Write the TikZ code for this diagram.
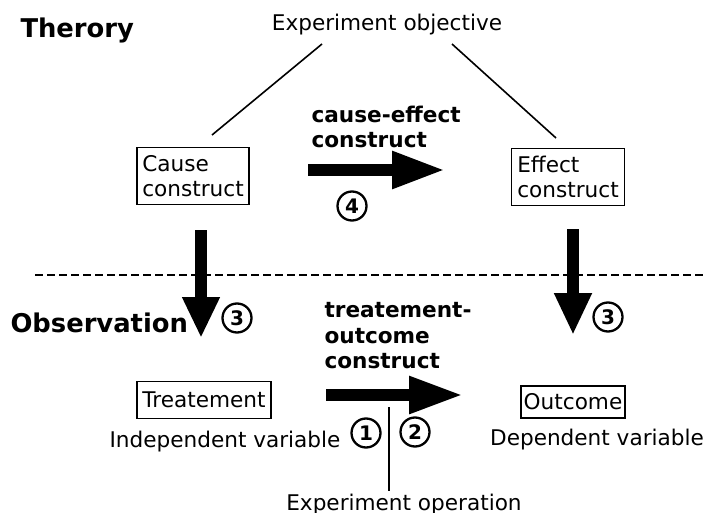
\documentclass[tikz,border=0pt]{standalone}
\usepackage{fontspec}
\setmainfont{DejaVu Sans}
\usetikzlibrary{arrows.meta}
\begin{document}
\begin{tikzpicture}[x=1pt,y=-1pt,
  every node/.style={font=\fontsize{21.6}{25}\selectfont},
  box/.style={draw,line width=1.8pt,inner xsep=5pt,inner ysep=3pt,align=left},
  heading/.style={font=\fontsize{25.8}{30}\selectfont\bfseries},
  boldlbl/.style={font=\fontsize{21.6}{25.5}\selectfont\bfseries,align=left},
  num/.style={circle,draw,line width=2.3pt,fill=white,inner sep=0pt,minimum size=29pt,font=\fontsize{20}{20}\selectfont\bfseries},
  thin/.style={line width=1.6pt},
  bigarrow/.style={line width=11.5pt,-{Triangle[length=#1,width=35pt]}},
  bigarrow/.default=53pt
]
\useasboundingbox (0,0) rectangle (706,513);
% headings
\node[heading,anchor=west] (theory) at (17,30) {Therory};
\node[heading,anchor=west] (obs) at (7,323) {Observation};
% top
\node (obj) at (387,25) {Experiment objective};
\node[box,minimum width=112pt,minimum height=57pt] (cause) at (193,176) {Cause\\construct};
\node[box,minimum width=113pt,minimum height=57pt] (effect) at (568,177) {Effect\\construct};
\coordinate (lA) at (322,44); \coordinate (lB) at (212,135);
\coordinate (rA) at (452,44); \coordinate (rB) at (556,138);
\draw[thin] (lA) -- (lB);
\draw[thin] (rA) -- (rB);
\node[boldlbl,anchor=west] (celbl) at (308,127) {cause-effect\\construct};
\coordinate (a4s) at (308,170); \coordinate (a4e) at (445,170);
\draw[bigarrow] (a4s) -- (a4e);
\node[num] (n4) at (352,206) {4};
% dashed divider
\coordinate (dA) at (35,275); \coordinate (dB) at (706,275);
\draw[line width=1.2pt,dash pattern=on 8pt off 4pt] (dA) -- (dB);
% down arrows
\coordinate (ls) at (201,230); \coordinate (le) at (201,338);
\draw[bigarrow=41pt] (ls) -- (le);
\coordinate (rs) at (573,229); \coordinate (re) at (573,335);
\draw[bigarrow=42pt] (rs) -- (re);
\node[num] (n3a) at (237,318) {3};
\node[num] (n3b) at (608,317) {3};
% bottom
\node[box,minimum width=134pt,minimum height=37pt] (treat) at (204,400) {Treatement};
\node (indep) at (225,442) {Independent variable};
\node[box,inner xsep=3pt,minimum width=104pt,minimum height=32pt] (outc) at (573,402) {Outcome};
\node (dep) at (597,440) {Dependent variable};
\node[boldlbl,anchor=west] (tolbl) at (321,336) {treatement-\\outcome\\construct};
\coordinate (bs) at (326,395); \coordinate (be) at (463,395);
\draw[bigarrow=54pt] (bs) -- (be);
\node[num] (n1) at (366,433) {1};
\node[num] (n2) at (415,432) {2};
\node[inner sep=0pt,anchor=base] (op) at (404,510) {Experiment operation};
\coordinate (opTop) at (389,407);
\draw[thin] (opTop) -- ([yshift=2pt]opTop |- op.north);
\end{tikzpicture}
\end{document}
